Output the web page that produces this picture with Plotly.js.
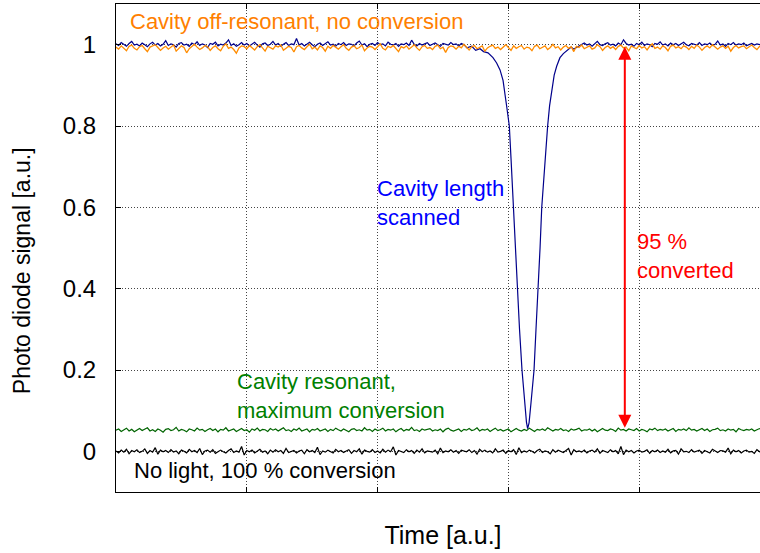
<!DOCTYPE html>
<html>
<head>
<meta charset="utf-8">
<script src="https://cdn.plot.ly/plotly-3.0.1.min.js"></script>
<style>
  html, body { margin: 0; padding: 0; background: #fff; overflow: hidden; }
  #wrap { width: 760px; height: 553px; overflow: hidden; position: relative; }
  #chart { width: 770px; height: 553px; }
</style>
</head>
<body>
<div id="wrap"><div id="chart"></div></div>
<script>
// ---------------- DATA (signals in thousandths of full scale) ----------------
const SAMPLE_STEP = 0.02; // time between samples [a.u.]

// Orange: cavity off-resonant, no conversion
const offResonantMilli = [
  994,989,997,992,985,996,999,991,987,995,
  998,990,983,994,997,1000,993,986,992,996,
  989,995,999,984,991,997,993,980,990,996,
  1001,994,988,992,998,995,986,993,997,990,
  985,996,1002,991,994,988,979,992,997,995,
  990,998,993,987,995,1000,992,984,996,993,
  989,997,994,999,986,991,996,993,982,995,
  998,992,988,995,1001,990,994,987,997,993,
  984,996,991,998,993,989,995,1000,991,986,
  994,997,990,993,999,985,992,996,994,988,
  995,1002,991,987,996,993,998,990,983,995,
  992,997,989,994,1000,992,986,995,998,991,
  993,988,996,999,990,994,981,993,997,995,
  989,996,992,1001,994,987,995,998,990,993,
  997,984,992,996,999,991,994,988,995,1000,
  993,986,997,991,995,998,989,994,992,985,
  996,999,990,994,997,988,993,1001,992,995,
  987,994,998,991,995,983,996,993,999,990,
  994,997,989,992,1000,995,986,993,997,991,
  995,988,996,999,992,994,985,997,993,990,
  998,992,995,987,996,1002,991,994,989,997,
  993,985,996,999,992,995,990,997,994,988,
  996,991,999,994,986,993,997,992,1000,995,
  989,994,997,991,996,984,993,998,992,995,
  997,990,994,999,993,988,996,992,998,990,
  995
];

// Green: cavity resonant, maximum conversion
const resonantMilli = [
  52,55,49,53,57,50,54,48,53,56,
  51,54,58,50,53,49,55,52,47,54,
  56,51,53,59,50,54,52,48,55,53,
  50,57,52,54,49,53,56,51,55,48,
  54,52,58,50,53,55,49,52,56,51,
  53,47,55,52,57,50,54,53,49,56,
  52,55,50,54,58,51,53,49,55,52,
  57,50,53,55,48,54,52,56,50,53,
  55,49,54,51,57,53,50,55,52,48,
  54,56,51,53,50,58,52,54,49,55,
  51,53,57,50,54,52,55,48,53,56,
  50,54,52,59,51,53,49,55,52,54,
  56,50,53,51,55,48,54,57,52,50,
  53,55,49,54,52,56,51,53,58,50,
  54,52,55,49,53,57,51,54,50,53,
  55,48,53,56,52,50,54,51,57,53,
  49,54,52,55,51,58,53,50,54,52,
  56,51,53,49,55,52,54,57,50,53,
  52,55,50,54,48,53,56,52,51,55,
  53,49,57,52,54,50,55,53,51,56,
  50,54,52,48,55,53,57,51,54,52,
  55,50,53,56,49,54,52,55,51,58,
  52,54,50,53,56,51,55,49,53,54,
  57,51,53,50,55,52,54,48,56,53,
  51,54,52,55,50,53,56,52,49,55,
  53
];

// Black: no light
const noLightMilli = [
  1,-4,3,-2,5,-6,2,-1,4,-3,
  0,6,-5,2,-2,9,-7,3,-1,2,
  -3,4,-2,1,-6,3,0,-4,5,-1,
  2,-3,7,-8,1,3,-2,4,-5,0,
  3,-1,-4,2,6,-3,1,-2,12,-9,
  2,-1,3,-4,0,5,-2,1,-6,3,
  -2,4,-1,2,-5,7,-3,0,2,-4,
  1,3,-6,4,-1,2,-3,10,-8,1,
  -2,3,0,-4,5,-1,2,-3,1,4,
  -5,2,-1,6,-7,3,0,-2,4,-3,
  1,-4,5,-2,3,-1,11,-9,2,0,
  -3,4,-1,2,-5,3,-2,6,-4,1,
  0,-2,3,-6,8,-3,1,-1,4,-2,
  2,-5,3,0,-1,4,-3,2,-7,5,
  -1,3,-2,1,-4,6,-2,0,3,-5,
  2,-1,4,-8,9,-3,1,-2,3,0,
  -4,2,5,-3,1,-1,-6,4,-2,3,
  0,-3,2,7,-9,4,-1,1,-2,3,
  -4,1,3,-2,6,-5,2,0,-3,4,
  -1,2,-6,12,-8,3,-1,2,-4,1,
  3,-2,0,4,-5,2,-1,3,-3,1,
  -2,5,-4,1,2,-7,6,-1,0,-3,
  4,-2,1,3,-5,2,-1,-4,5,0,
  -3,2,1,-2,8,-6,3,-1,2,-4,
  1,3,-2,0,-5,4,-1,2,-3,1,
  0
];

// Blue: cavity length scanned (before dip, samples 0..133)
const scanBeforeMilli = [
  1002,998,1005,1000,996,1003,1008,999,1001,997,
  1004,1000,995,1002,1006,999,1003,997,1001,1010,
  998,1002,1000,994,1003,1005,999,1001,996,1004,
  1000,1007,998,1002,999,993,1003,1001,1006,997,
  1001,999,1004,1012,998,1002,996,1000,1005,999,
  1003,997,1001,1006,999,994,1002,1004,998,1001,
  1008,999,1003,996,1001,1005,998,1002,1000,1015,
  999,1003,997,1002,1006,1000,995,1001,1004,998,
  1002,1007,999,1001,996,1003,1000,1005,998,1002,
  1001,997,1004,1009,999,1002,995,1001,1003,998,
  1005,1000,1002,997,1006,1001,999,1003,996,1002,
  1000,1004,998,1011,1001,997,1003,999,1002,1005,
  998,1001,1004,1000,996,1003,1001,999,1005,1000,
  1002,997,1003,1000
];
// Blue dip (explicit times)
const dipTime = [2.683,2.72,2.75,2.783,2.81,2.844,2.882,2.91,2.936,2.959,2.987,3.007,3.020,3.037,3.053,3.068,3.085,3.104,3.123,3.138,3.147,3.158,3.173,3.196,3.211,3.229,3.242,3.255,3.276,3.300,3.315,3.331,3.350,3.369,3.394,3.42,3.448,3.48,3.50];
const dipMilli = [992,996,986,990,983,980,968,955,938,912,848,800,720,600,500,400,300,200,120,72,56,70,120,200,300,400,500,600,700,800,850,889,925,947,968,978,986,994,989];
// Blue after dip (samples 177..250)
const scanAfterStart = 177;
const scanAfterMilli = [
  997,1001,1004,999,1002,996,1003,1008,1000,998,
  1002,1005,999,1001,997,1004,1000,1012,1003,999,
  1001,996,1003,1000,1006,998,1002,1000,995,1003,
  1001,1007,999,1002,997,1004,1000,1003,998,1002,
  1006,1000,997,1003,1001,999,1005,998,1002,1000,
  1004,998,1001,1009,999,1002,996,1003,1000,1005,
  999,1002,1000,1004,997,1001,1003,999,1002,1000,
  1003,998,1001,1000
];

// Red arrow: conversion marker
const arrowTime = 3.89;
const arrowTop = 0.995;
const arrowBottom = 0.054;

const yTicks = [0, 0.2, 0.4, 0.6, 0.8, 1];
const yTickText = ['0', '0.2', '0.4', '0.6', '0.8', '1'];
const xTicks = [0, 1, 2, 3, 4, 5];

// ---------------- BUILD ----------------
const toUnit = a => a.map(v => v / 1000);
const sampleTime = offResonantMilli.map((_, i) => i * SAMPLE_STEP);

const blueX = scanBeforeMilli.map((_, i) => i * SAMPLE_STEP)
  .concat(dipTime)
  .concat(scanAfterMilli.map((_, i) => (scanAfterStart + i) * SAMPLE_STEP));
const blueY = toUnit(scanBeforeMilli).concat(toUnit(dipMilli)).concat(toUnit(scanAfterMilli));

const traces = [
  {x: sampleTime, y: toUnit(noLightMilli), mode: 'lines', line: {color: '#000000', width: 1.2}, name: 'No light'},
  {x: sampleTime, y: toUnit(resonantMilli), mode: 'lines', line: {color: '#006400', width: 1.2}, name: 'Resonant'},
  {x: blueX, y: blueY, mode: 'lines', line: {color: '#00008b', width: 1.2}, name: 'Scanned'},
  {x: sampleTime, y: toUnit(offResonantMilli), mode: 'lines', line: {color: '#ff8c00', width: 1.3}, name: 'Off-resonant'}
];

const FONT = 'Liberation Sans, Arial, Helvetica, sans-serif';
const TXT = 22;

const layout = {
  width: 770, height: 553,
  margin: {l: 116, r: 0, t: 4, b: 61},
  paper_bgcolor: '#fff', plot_bgcolor: '#fff',
  showlegend: false,
  font: {family: FONT, color: '#000'},
  xaxis: {
    range: [0, 5], tickvals: xTicks, showticklabels: false,
    ticks: 'inside', ticklen: 5, tickcolor: '#000', tickwidth: 1,
    showline: true, linecolor: '#000', linewidth: 1, mirror: 'ticks',
    showgrid: true, gridcolor: '#444', gridwidth: 1, griddash: '1px,2px',
    zeroline: false,
    title: {text: 'Time [a.u.]', font: {size: 25, family: FONT, color: '#000'}, standoff: 34}
  },
  yaxis: {
    range: [-0.1, 1.1], tickvals: yTicks, ticktext: yTickText,
    ticks: 'inside', ticklen: 5, tickcolor: '#000', tickwidth: 1,
    tickfont: {size: 24, family: FONT, color: '#000'}, ticklabelstandoff: 14,
    showline: true, linecolor: '#000', linewidth: 1, mirror: false,
    showgrid: true, gridcolor: '#444', gridwidth: 1, griddash: '1px,2px',
    zeroline: false,
    title: {text: ''}
  },
  annotations: [
    // y-axis title (placed slightly below the plot centre, as in the original)
    {x: -0.1437, y: 0.443, xref: 'paper', yref: 'y', xanchor: 'center', yanchor: 'middle', showarrow: false,
     textangle: -90, text: 'Photo diode signal [a.u.]', font: {size: 23, color: '#000', family: FONT}},
    {x: 0.095, y: 1.057, xref: 'x', yref: 'y', xanchor: 'left', yanchor: 'middle', showarrow: false,
     text: 'Cavity off-resonant, no conversion', font: {size: TXT, color: '#ff7f00', family: FONT}},
    {x: 1.98, y: 0.611, xref: 'x', yref: 'y', xanchor: 'left', yanchor: 'middle', showarrow: false, align: 'left',
     text: 'Cavity length<br>scanned', font: {size: TXT, color: '#0000ff', family: FONT}},
    {x: 3.97, y: 0.48, xref: 'x', yref: 'y', xanchor: 'left', yanchor: 'middle', showarrow: false, align: 'left',
     text: '95 %<br>converted', font: {size: TXT, color: '#ff0000', family: FONT}},
    {x: 0.91, y: 0.135, xref: 'x', yref: 'y', xanchor: 'left', yanchor: 'middle', showarrow: false, align: 'left',
     text: 'Cavity resonant,<br>maximum conversion', font: {size: TXT, color: '#008000', family: FONT}},
    {x: 0.12, y: -0.047, xref: 'x', yref: 'y', xanchor: 'left', yanchor: 'middle', showarrow: false,
     text: 'No light, 100 % conversion', font: {size: TXT, color: '#000000', family: FONT}},
    {x: arrowTime, y: arrowTop, ax: arrowTime, ay: arrowBottom, xref: 'x', yref: 'y', axref: 'x', ayref: 'y',
     text: '', showarrow: true, arrowhead: 2, startarrowhead: 2, arrowside: 'end+start',
     arrowsize: 1.3, startarrowsize: 1.3, arrowwidth: 2, arrowcolor: '#ff0000', standoff: 0, startstandoff: 0}
  ]
};

Plotly.newPlot('chart', traces, layout, {displayModeBar: false, staticPlot: true});
</script>
</body>
</html>
